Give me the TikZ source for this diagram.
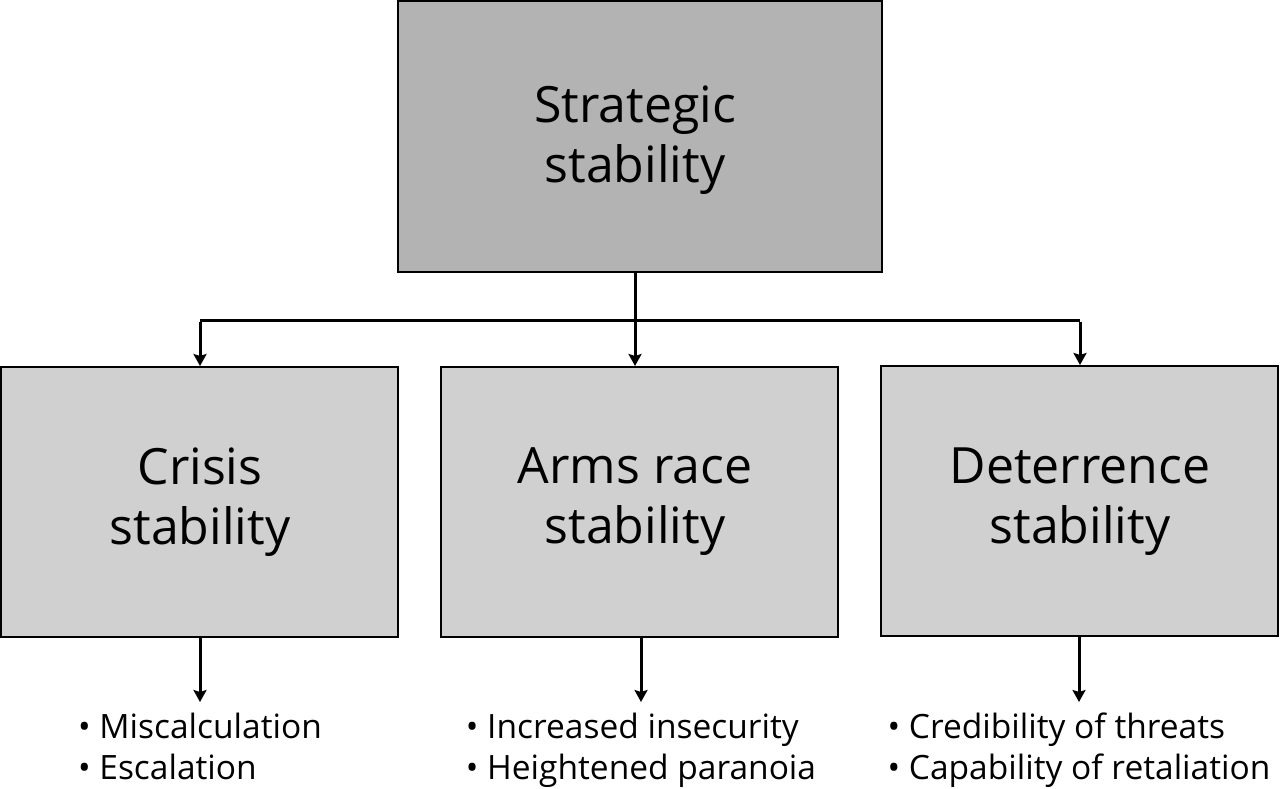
\documentclass[tikz,border=0pt]{standalone}
\usepackage{fontspec}
\setmainfont{Open Sans}
\usetikzlibrary{arrows.meta}
\begin{document}
\begin{tikzpicture}[x=1pt,y=-1pt,
  boxtext/.style={align=center,font=\fontsize{50}{60}\selectfont},
  topbox/.style={draw=black,line width=2pt,fill=topgray,minimum width=484pt,minimum height=271pt,inner sep=0pt},
  childbox/.style={draw=black,line width=2pt,fill=childgray,minimum width=397pt,minimum height=270pt,inner sep=0pt},
  conn/.style={line width=3pt},
  arr/.style={line width=3pt,-{Stealth[length=12pt,width=13pt,inset=2pt]}},
  bullets/.style={align=left,inner sep=0pt,anchor=north,font=\fontsize{33.5}{41}\selectfont}
]
\definecolor{topgray}{HTML}{B3B3B3}
\definecolor{childgray}{HTML}{D0D0D0}
\useasboundingbox (0,0) rectangle (1280,789);
\node[topbox] (top) at (640,136.5) {};
\node[childbox] (crisis) at (199.5,502) {};
\node[childbox] (arms) at (639.5,502) {};
\node[childbox] (deter) at (1079.5,501) {};
\node[boxtext] (ttop) at (635,140) {Strategic\\stability};
\node[boxtext] (tcrisis) at (200,502) {Crisis\\stability};
\node[boxtext] (tarms) at (635,502) {Arms race\\stability};
\node[boxtext] (tdeter) at (1080,502) {Deterrence\\stability};
\coordinate (split) at (635,320);
\coordinate (jl) at (200,320);
\coordinate (jr) at (1080,320);
\draw[conn] (top.south -| split) -- (split);
\draw[conn] (jl) -- (jr);
\draw[arr] (split) -- (split |- arms.north);
\draw[arr] ([yshift=-1.5pt]jl) -- (jl |- crisis.north);
\draw[arr] ([yshift=-1.5pt]jr) -- (jr |- deter.north);
\node[bullets] (b1) at (200,713) {• Miscalculation\\• Escalation};
\node[bullets] (b2) at (641,713) {• Increased insecurity\\• Heightened paranoia};
\node[bullets] (b3) at (1079,713) {• Credibility of threats\\• Capability of retaliation};
\draw[arr] (crisis.south -| b1.north) -- ([yshift=11pt]b1.north);
\draw[arr] (arms.south -| b2.north) -- ([yshift=11pt]b2.north);
\draw[arr] (deter.south -| b3.north) -- ([yshift=11pt]b3.north);
\end{tikzpicture}
\end{document}
